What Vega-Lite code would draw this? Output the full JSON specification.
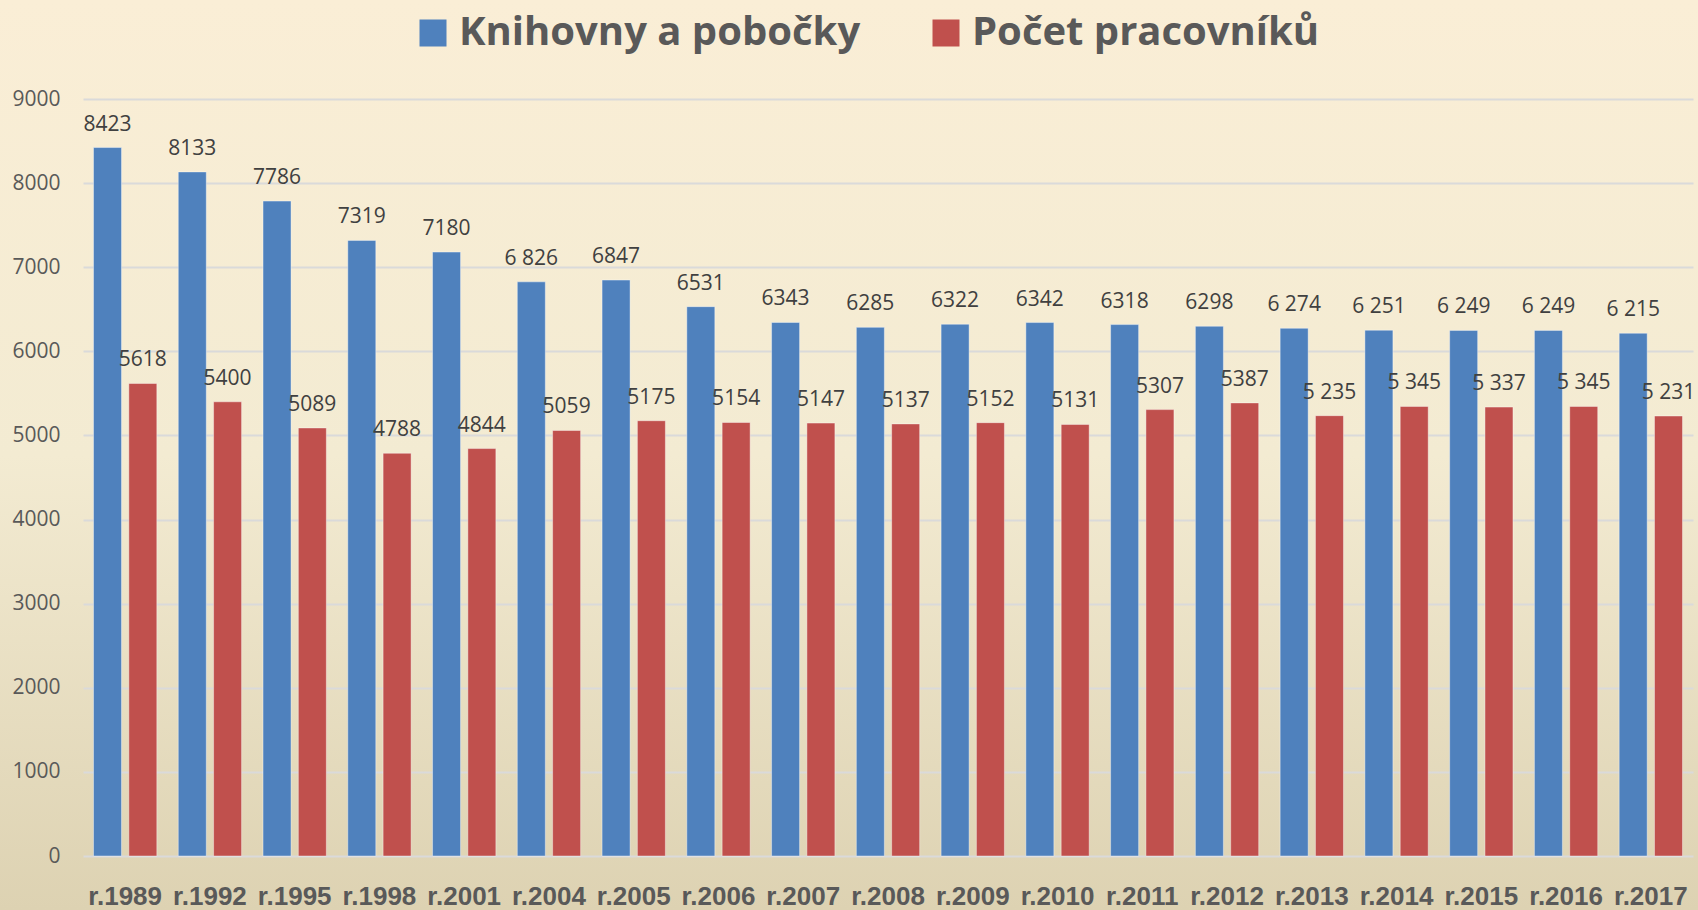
{
  "$schema": "https://vega.github.io/schema/vega-lite/v6.json",
  "width": 1698,
  "height": 910,
  "autosize": {"type": "none"},
  "padding": 0,
  "background": "#F5EBD0",
  "config": {
    "view": {
      "stroke": null,
      "fill": {
        "gradient": "linear",
        "x1": 0, "y1": 0, "x2": 0, "y2": 1,
        "stops": [
          {"offset": 0, "color": "#FAEED6"},
          {"offset": 0.5, "color": "#F3EBD2"},
          {"offset": 1, "color": "#DDD2B2"}
        ]
      }
    }
  },
  "data": {
    "values": [
      {"year": "r.1989", "series": "Knihovny a pobočky", "value": 8423, "label": "8423"},
      {"year": "r.1989", "series": "Počet pracovníků", "value": 5618, "label": "5618"},
      {"year": "r.1992", "series": "Knihovny a pobočky", "value": 8133, "label": "8133"},
      {"year": "r.1992", "series": "Počet pracovníků", "value": 5400, "label": "5400"},
      {"year": "r.1995", "series": "Knihovny a pobočky", "value": 7786, "label": "7786"},
      {"year": "r.1995", "series": "Počet pracovníků", "value": 5089, "label": "5089"},
      {"year": "r.1998", "series": "Knihovny a pobočky", "value": 7319, "label": "7319"},
      {"year": "r.1998", "series": "Počet pracovníků", "value": 4788, "label": "4788"},
      {"year": "r.2001", "series": "Knihovny a pobočky", "value": 7180, "label": "7180"},
      {"year": "r.2001", "series": "Počet pracovníků", "value": 4844, "label": "4844"},
      {"year": "r.2004", "series": "Knihovny a pobočky", "value": 6826, "label": "6 826"},
      {"year": "r.2004", "series": "Počet pracovníků", "value": 5059, "label": "5059"},
      {"year": "r.2005", "series": "Knihovny a pobočky", "value": 6847, "label": "6847"},
      {"year": "r.2005", "series": "Počet pracovníků", "value": 5175, "label": "5175"},
      {"year": "r.2006", "series": "Knihovny a pobočky", "value": 6531, "label": "6531"},
      {"year": "r.2006", "series": "Počet pracovníků", "value": 5154, "label": "5154"},
      {"year": "r.2007", "series": "Knihovny a pobočky", "value": 6343, "label": "6343"},
      {"year": "r.2007", "series": "Počet pracovníků", "value": 5147, "label": "5147"},
      {"year": "r.2008", "series": "Knihovny a pobočky", "value": 6285, "label": "6285"},
      {"year": "r.2008", "series": "Počet pracovníků", "value": 5137, "label": "5137"},
      {"year": "r.2009", "series": "Knihovny a pobočky", "value": 6322, "label": "6322"},
      {"year": "r.2009", "series": "Počet pracovníků", "value": 5152, "label": "5152"},
      {"year": "r.2010", "series": "Knihovny a pobočky", "value": 6342, "label": "6342"},
      {"year": "r.2010", "series": "Počet pracovníků", "value": 5131, "label": "5131"},
      {"year": "r.2011", "series": "Knihovny a pobočky", "value": 6318, "label": "6318"},
      {"year": "r.2011", "series": "Počet pracovníků", "value": 5307, "label": "5307"},
      {"year": "r.2012", "series": "Knihovny a pobočky", "value": 6298, "label": "6298"},
      {"year": "r.2012", "series": "Počet pracovníků", "value": 5387, "label": "5387"},
      {"year": "r.2013", "series": "Knihovny a pobočky", "value": 6274, "label": "6 274"},
      {"year": "r.2013", "series": "Počet pracovníků", "value": 5235, "label": "5 235"},
      {"year": "r.2014", "series": "Knihovny a pobočky", "value": 6251, "label": "6 251"},
      {"year": "r.2014", "series": "Počet pracovníků", "value": 5345, "label": "5 345"},
      {"year": "r.2015", "series": "Knihovny a pobočky", "value": 6249, "label": "6 249"},
      {"year": "r.2015", "series": "Počet pracovníků", "value": 5337, "label": "5 337"},
      {"year": "r.2016", "series": "Knihovny a pobočky", "value": 6249, "label": "6 249"},
      {"year": "r.2016", "series": "Počet pracovníků", "value": 5345, "label": "5 345"},
      {"year": "r.2017", "series": "Knihovny a pobočky", "value": 6215, "label": "6 215"},
      {"year": "r.2017", "series": "Počet pracovníků", "value": 5231, "label": "5 231"}
    ]
  },
  "encoding": {
    "x": {
      "field": "year",
      "type": "nominal",
      "sort": null,
      "scale": {"range": [83, 1693], "paddingInner": 0.253, "paddingOuter": 0.124},
      "axis": {
        "orient": "bottom",
        "offset": -54,
        "title": null,
        "domain": false,
        "ticks": false,
        "grid": false,
        "labelAngle": 0,
        "labelPadding": 27,
        "labelFont": "Liberation Sans",
        "labelFontWeight": "bold",
        "labelFontSize": 26,
        "labelColor": "#595959"
      }
    },
    "xOffset": {
      "field": "series",
      "type": "nominal",
      "sort": null,
      "scale": {"paddingInner": 0.207}
    },
    "y": {
      "field": "value",
      "type": "quantitative",
      "scale": {"domain": [0, 9000], "range": [856, 99], "nice": false, "zero": true},
      "axis": {
        "offset": -83,
        "title": null,
        "values": [0, 1000, 2000, 3000, 4000, 5000, 6000, 7000, 8000, 9000],
        "format": "d",
        "domain": false,
        "ticks": false,
        "labelPadding": 23,
        "labelFont": "Open Sans",
        "labelFontSize": 21,
        "labelColor": "#595959",
        "gridColor": "#DADADA",
        "gridWidth": 2
      }
    }
  },
  "layer": [
    {
      "mark": {"type": "bar", "stroke": "#FFFFFF", "strokeOpacity": 0.4, "strokeWidth": 1},
      "encoding": {
        "color": {
          "field": "series",
          "type": "nominal",
          "sort": null,
          "scale": {"range": ["#4F81BD", "#C0504D"]},
          "legend": {
            "orient": "none",
            "legendX": 413,
            "legendY": 13,
            "direction": "horizontal",
            "title": null,
            "padding": 0,
            "symbolType": "square",
            "symbolSize": 729,
            "symbolStrokeWidth": 0,
            "symbolOpacity": 1,
            "labelOffset": 6,
            "columnPadding": 65,
            "labelFont": "Open Sans",
            "labelFontWeight": "bold",
            "labelFontSize": 40,
            "labelColor": "#595959",
            "labelLimit": 800
          }
        }
      }
    },
    {
      "mark": {
        "type": "text",
        "baseline": "alphabetic",
        "dy": -17,
        "font": "Open Sans",
        "fontSize": 21,
        "fill": "#404040"
      },
      "encoding": {
        "text": {"field": "label", "type": "nominal"}
      }
    }
  ]
}
